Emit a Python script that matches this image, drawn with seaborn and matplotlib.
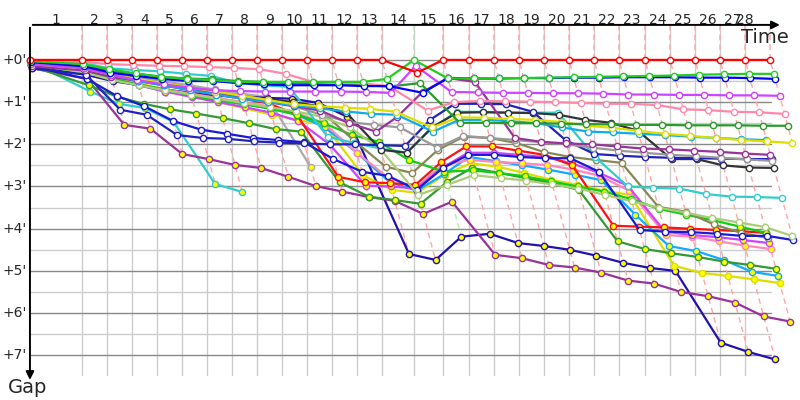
import numpy as np
import pandas as pd
import matplotlib.pyplot as plt
import seaborn as sns
from matplotlib.colors import to_rgb

# Leader lap durations (minutes) -> cumulative race time at each lap end
lap_times = [4.60, 2.21, 2.22, 2.21, 2.21, 2.21, 2.22, 2.21, 2.21, 2.21, 2.22, 2.21, 2.21, 2.83,
             2.57, 2.30, 2.21, 2.21, 2.22, 2.21, 2.21, 2.21, 2.30, 2.22, 2.21, 2.21, 2.21, 2.22]
lap_end = np.concatenate([[0.0], np.cumsum(lap_times)])
gap_ticks = [0, 1, 2, 3, 4, 5, 6, 7]

# Gap to leader (minutes) at the end of each lap, lap 0 = start
gap_red = [0] * 14 + [0.30] + [0] * 14
gap_green = [0.03, 0.10, 0.22, 0.32, 0.40, 0.45, 0.48, 0.52, 0.52, 0.52, 0.52, 0.52, 0.52, 0.45, 0.0,
             0.44, 0.44, 0.43, 0.43, 0.42, 0.41, 0.40, 0.39, 0.38, 0.37, 0.35, 0.34, 0.33, 0.33]
gap_blue = [0.05, 0.15, 0.30, 0.38, 0.45, 0.50, 0.50, 0.55, 0.58, 0.60, 0.60, 0.60, 0.62, 0.62, 0.78,
            0.43, 0.44, 0.44, 0.43, 0.43, 0.42, 0.42, 0.41, 0.41, 0.41, 0.42, 0.42, 0.43, 0.45]
gap_violet = [0.10, 0.20, 0.35, 0.48, 0.58, 0.66, 0.72, 0.74, 0.75, 0.75, 0.75, 0.75, 0.76, 0.78, 0.14,
              0.76, 0.77, 0.78, 0.78, 0.79, 0.79, 0.80, 0.82, 0.82, 0.83, 0.83, 0.84, 0.84, 0.85]
gap_pink = [0.0, 0.05, 0.10, 0.12, 0.14, 0.15, 0.17, 0.19, 0.22, 0.33, 0.52, 0.55, 0.56, 0.62, 1.20,
            1.00, 0.97, 0.98, 0.99, 1.00, 1.02, 1.04, 1.04, 1.07, 1.17, 1.19, 1.23, 1.24, 1.28]
gap_dkgreen = [0.05, 0.12, 0.25, 0.33, 0.40, 0.44, 0.46, 0.50, 0.52, 0.55, 0.57, 0.58, 0.60, 0.63, 0.55,
               1.49, 1.49, 1.50, 1.50, 1.51, 1.52, 1.53, 1.54, 1.54, 1.55, 1.55, 1.55, 1.56, 1.56]
gap_yellow = [0.10, 0.20, 0.35, 0.45, 0.55, 0.65, 0.75, 0.85, 0.95, 1.05, 1.10, 1.13, 1.16, 1.23, 1.60,
              1.36, 1.37, 1.40, 1.42, 1.47, 1.56, 1.61, 1.68, 1.75, 1.80, 1.85, 1.90, 1.93, 1.97]
gap_sky = [0.08, 0.20, 0.35, 0.50, 0.60, 0.72, 0.82, 0.92, 1.00, 1.08, 1.15, 1.22, 1.28, 1.30, 1.70,
           1.42, 1.42, 1.45, 1.50, 1.60, 1.70, 1.72, 1.75, 1.78, 1.82, 1.85, 1.88, 1.90]
gap_purple = [0.15, 0.25, 0.40, 0.50, 0.60, 0.70, 0.80, 0.90, 1.00, 1.10, 1.20, 1.50, 1.70, 1.35, 0.76,
              0.43, 0.52, 1.85, 1.94, 1.98, 2.00, 2.05, 2.10, 2.12, 2.15, 2.18, 2.22, 2.25]
gap_gray = [0.10, 0.20, 0.30, 0.42, 0.55, 0.65, 0.75, 0.85, 0.95, 1.10, 1.30, 1.47, 1.54, 1.60, 2.08,
            1.80, 1.85, 1.90, 1.95, 2.00, 2.08, 2.15, 2.20, 2.25, 2.28, 2.32, 2.36, 2.39]
gap_navy = [0.20, 0.35, 1.18, 1.30, 1.78, 1.85, 1.87, 1.93, 1.96, 1.98, 2.00, 2.00, 2.02, 2.04, 1.42,
            1.04, 1.04, 1.05, 1.23, 1.90, 2.23, 2.27, 2.30, 2.32, 2.33, 2.34, 2.35, 2.35]
gap_black = [0.12, 0.22, 0.35, 0.45, 0.55, 0.70, 0.80, 0.87, 0.92, 1.00, 1.10, 1.25, 2.13, 2.20, 1.60,
             1.25, 1.24, 1.25, 1.26, 1.30, 1.42, 1.49, 1.68, 2.35, 2.35, 2.50, 2.55, 2.56]
gap_cyan = [0.02, 0.07, 0.20, 0.24, 0.27, 0.33, 0.38, 0.55, 0.60, 0.64, 1.82, 1.97, 2.10, 2.20, 1.61,
            1.23, 1.23, 1.25, 1.25, 1.25, 2.30, 3.00, 3.03, 3.05, 3.18, 3.24, 3.25, 3.27]
gap_ltgreen = [0.10, 0.30, 0.48, 0.60, 0.72, 0.82, 0.92, 1.02, 1.12, 1.22, 1.35, 1.60, 2.13, 3.20, 2.96,
               2.73, 2.80, 2.86, 2.95, 3.05, 3.20, 3.35, 3.50, 3.62, 3.75, 3.85, 3.96, 4.17]
gap_blue2 = [0.15, 0.45, 0.85, 1.10, 1.45, 1.65, 1.75, 1.85, 1.90, 1.95, 2.35, 2.65, 2.75, 3.08, 2.56,
             2.25, 2.25, 2.30, 2.33, 2.33, 2.65, 4.03, 4.07, 4.08, 4.12, 4.17, 4.17, 4.27]
gap_olive = [0.10, 0.22, 0.35, 0.45, 0.55, 0.65, 0.75, 0.85, 0.95, 1.05, 1.20, 1.90, 2.53, 2.68, 2.13,
             1.82, 1.85, 1.97, 2.18, 2.30, 2.37, 2.44, 3.48, 3.60, 3.90, 4.10, 4.22]
gap_green2 = [0.12, 0.30, 0.45, 0.58, 0.70, 0.85, 0.95, 1.05, 1.15, 1.30, 1.50, 1.78, 1.94, 2.37, 2.65,
              2.62, 2.68, 2.76, 2.88, 3.00, 3.12, 3.30, 3.53, 3.67, 3.80, 3.95, 4.10]
gap_red2 = [0.05, 0.25, 0.38, 0.48, 0.60, 0.72, 0.82, 0.92, 1.03, 1.30, 2.77, 2.90, 2.92, 2.96, 2.42,
            2.05, 2.05, 2.15, 2.25, 2.50, 3.93, 3.95, 3.97, 4.00, 4.03, 4.06, 4.10]
gap_violet2 = [0.10, 0.30, 0.45, 0.60, 0.75, 0.88, 1.00, 1.12, 1.25, 1.45, 2.00, 2.98, 3.00, 3.05, 2.55,
               2.20, 2.20, 2.25, 2.30, 2.45, 2.68, 2.98, 4.07, 4.15, 4.20, 4.27, 4.34]
gap_pink2 = [0.08, 0.30, 0.45, 0.58, 0.70, 0.80, 0.90, 1.00, 1.10, 1.25, 1.50, 2.20, 2.80, 3.02, 2.50,
             2.37, 2.42, 2.45, 2.49, 2.60, 2.75, 3.10, 4.15, 4.19, 4.30, 4.40, 4.48]
gap_dkgreen2 = [0.15, 0.60, 0.87, 1.04, 1.17, 1.27, 1.38, 1.50, 1.64, 1.70, 2.90, 3.24, 3.32, 3.41, 2.90,
                2.56, 2.68, 2.80, 2.92, 3.08, 4.30, 4.48, 4.58, 4.67, 4.78, 4.86, 4.95]
gap_sky2 = [0.10, 0.30, 0.45, 0.60, 0.75, 0.85, 0.95, 1.05, 1.15, 1.30, 1.60, 2.20, 2.90, 3.10, 2.70,
            2.30, 2.40, 2.50, 2.60, 2.72, 2.85, 3.67, 4.41, 4.53, 4.74, 5.02, 5.12]
gap_yellow2 = [0.10, 0.25, 0.40, 0.55, 0.70, 0.85, 1.00, 1.15, 1.30, 1.42, 1.54, 2.73, 3.08, 3.15, 2.72,
               2.45, 2.53, 2.68, 2.84, 2.96, 3.10, 3.20, 4.88, 5.05, 5.12, 5.20, 5.29]
gap_purple2 = [0.20, 0.45, 1.54, 1.63, 2.23, 2.35, 2.49, 2.56, 2.77, 2.99, 3.12, 3.25, 3.34, 3.65, 3.36,
               4.62, 4.70, 4.86, 4.92, 5.04, 5.23, 5.30, 5.50, 5.60, 5.75, 6.08, 6.20]
gap_navy2 = [0.12, 0.35, 0.50, 0.60, 0.70, 0.78, 0.85, 0.87, 0.90, 0.92, 1.02, 1.35, 4.60, 4.74, 4.19,
             4.12, 4.34, 4.41, 4.50, 4.64, 4.81, 4.93, 5.00, 6.70, 6.92, 7.10]
gap_cyan2 = [0.05, 0.75, 1.04, 1.14, 1.47, 2.94, 3.13]
gap_gray2 = [0.10, 0.20, 0.30, 0.40, 0.50, 0.60, 0.70, 0.80, 0.88, 2.53]

cars = [gap_red, gap_green, gap_blue, gap_violet, gap_pink, gap_dkgreen, gap_yellow, gap_sky,
        gap_purple, gap_gray, gap_navy, gap_black, gap_cyan, gap_ltgreen, gap_blue2, gap_olive,
        gap_green2, gap_red2, gap_violet2, gap_pink2, gap_dkgreen2, gap_sky2, gap_yellow2,
        gap_purple2, gap_navy2, gap_cyan2, gap_gray2]
car_colors = ['#ff0000', '#22cc22', '#0000ff', '#cc44ff', '#ff88aa', '#2a9a2a', '#dddd00', '#11aaee',
              '#993399', '#999999', '#2222bb', '#333333', '#33cccc', '#aacc77', '#1a1ad0', '#888855',
              '#11cc11', '#ff1111', '#cc44ff', '#ff88bb', '#339933', '#11aaff', '#dddd00',
              '#993399', '#2211aa', '#33cccc', '#aaaaaa']
car_fills = ['white'] * 16 + ['#ffff00'] * 11

rows = []
for i, g in enumerate(cars):
    for lap, v in enumerate(g):
        rows.append({'car': i, 'lap': lap, 'time': lap_end[lap] + v, 'gap': v})
df = pd.DataFrame(rows)

sns.set_style('white')
fig = plt.figure(figsize=(8, 4), dpi=100)
ax = fig.add_axes([0, 0, 1, 1])
ax.set_xlim(-2.65, 68.14)
ax.set_ylim(8.06, -1.42)
ax.axis('off')

top = -0.83
bottom = 7.46
right = lap_end[-1] + 0.1

# grid
for t in lap_end[1:-1]:
    ax.plot([t, t], [top, bottom], color='#cccccc', lw=1, zorder=1)
for g in np.arange(0.5, 7, 1.0):
    ax.plot([0, right], [g, g], color='#cccccc', lw=1, zorder=1)
for g in gap_ticks:
    ax.plot([0, right], [g, g], color='#888888', lw=1, zorder=1)

# lap lines (same lap for every car)
for k in range(1, len(lap_end)):
    vals = [(g[k], i) for i, g in enumerate(cars) if len(g) > k]
    gmax = max(v for v, _ in vals)
    lead = min(vals)[1]
    light = 1 - 0.35 * (1 - np.array(to_rgb(car_colors[lead])))
    t = lap_end[k]
    ax.plot([t, t, t + gmax], [top, 0, gmax], color=light, lw=1,
            ls=(0, (4, 3)), zorder=2)

# cars, leaders drawn last
for i in reversed(range(len(cars))):
    d = df[df['car'] == i]
    sns.lineplot(data=d, x='time', y='gap', sort=False, estimator=None, ax=ax,
                 color=car_colors[i], lw=1.6, marker='o', markersize=4.5,
                 markerfacecolor=car_fills[i], markeredgecolor=car_colors[i],
                 markeredgewidth=1, zorder=3 + 0.01 * (len(cars) - i), legend=False)

# axes with arrows
ax.annotate('', xy=(66.6, top), xytext=(0, top),
            arrowprops=dict(arrowstyle='-|>', color='black', lw=1.4, mutation_scale=12), zorder=5)
ax.annotate('', xy=(0, 7.65), xytext=(0, top),
            arrowprops=dict(arrowstyle='-|>', color='black', lw=1.4, mutation_scale=12), zorder=5)

ax.text(65.0, -0.52, 'Time', fontsize=14, ha='center', va='center')
ax.text(-0.2, 7.77, 'Gap', fontsize=14, ha='center', va='center')

for g in gap_ticks:
    ax.text(-0.3, g, "+%d'" % g, fontsize=10, ha='right', va='center')

n = len(lap_times)
for k in range(1, n + 1):
    if k == n:
        xm = (lap_end[k - 2] + lap_end[k]) / 2
    else:
        xm = (lap_end[k - 1] + lap_end[k]) / 2
    ax.text(xm, -0.95, str(k), fontsize=10, ha='center', va='center')

fig.savefig('out.png', dpi=100)
